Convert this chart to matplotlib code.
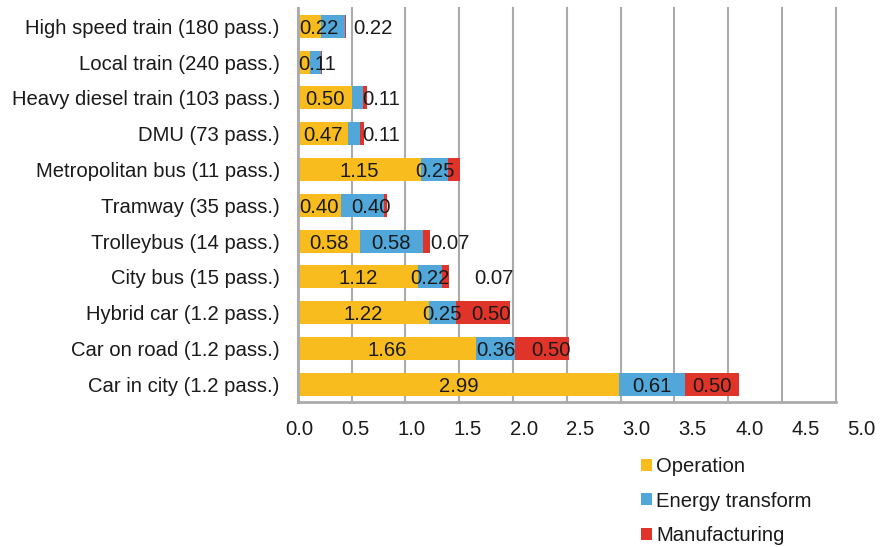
import matplotlib
matplotlib.use("Agg")
import matplotlib.pyplot as plt
from matplotlib.patches import Patch

# ---------------- data ----------------
categories = [
    "High speed train (180 pass.)",
    "Local train (240 pass.)",
    "Heavy diesel train (103 pass.)",
    "DMU (73 pass.)",
    "Metropolitan bus (11 pass.)",
    "Tramway (35 pass.)",
    "Trolleybus (14 pass.)",
    "City bus (15 pass.)",
    "Hybrid car (1.2 pass.)",
    "Car on road (1.2 pass.)",
    "Car in city (1.2 pass.)",
]
operation = [0.22, 0.11, 0.50, 0.47, 1.15, 0.40, 0.58, 1.12, 1.22, 1.66, 2.99]
energy_transform = [0.22, 0.11, 0.11, 0.11, 0.25, 0.40, 0.58, 0.22, 0.25, 0.36, 0.61]
manufacturing = [0.01, 0.01, 0.03, 0.04, 0.11, 0.03, 0.07, 0.07, 0.50, 0.50, 0.50]
series_names = ["Operation", "Energy transform", "Manufacturing"]
x_ticks = [0.0, 0.5, 1.0, 1.5, 2.0, 2.5, 3.0, 3.5, 4.0, 4.5, 5.0]

# ---------------- label placement (style, not data) ----------------
# (series index, category index) -> x position of moved data label
label_x_override = {
    (0, 0): 0.20, (1, 0): 0.70,
    (0, 1): 0.18,
    (1, 2): 0.78,
    (1, 3): 0.78,
    (1, 5): 0.68,
    (2, 6): 1.415,
    (2, 7): 1.82,
    (2, 8): 1.80,
    (2, 9): 2.35,
}
label_hidden = {(1, 1), (2, 0), (2, 1), (2, 2), (2, 3), (2, 4), (2, 5)}

colors = ["#F9BC1E", "#51A7D9", "#E0342A"]
text_color = "#1a1a1a"
grey = "#ABABAB"
FS = 14.6

plt.rcParams["font.family"] = ["Liberation Sans", "DejaVu Sans"]

fig = plt.figure(figsize=(8.8, 5.47), dpi=100)
W, H = 880.0, 547.0
ax_left, ax_right = 297.7, 835.7
ax_top, ax_bot = 8.4, 402.2
ax = fig.add_axes([ax_left / W, 1 - ax_bot / H, (ax_right - ax_left) / W, (ax_bot - ax_top) / H])

n = len(categories)
ypos = list(range(n))
series = [operation, energy_transform, manufacturing]
left = [0.0] * n
bar_h = 0.64
for si, vals in enumerate(series):
    ax.barh(ypos, vals, left=left, height=bar_h, color=colors[si], edgecolor="none", zorder=2)
    for ci in range(n):
        if (si, ci) in label_hidden:
            continue
        xc = label_x_override.get((si, ci), left[ci] + vals[ci] / 2.0)
        ax.text(xc, ypos[ci], f"{vals[ci]:.2f}", ha="center", va="center_baseline",
                fontsize=FS, color=text_color, zorder=3)
    left = [l + v for l, v in zip(left, vals)]

ax.set_xlim(0, 5)
ax.set_ylim(n - 0.5, -0.5)
ax.set_xticks(x_ticks)
ax.tick_params(axis="x", length=0, labelbottom=False)
ax.grid(axis="x", color=grey, linewidth=1.5, zorder=0)
ax.set_axisbelow(True)
for gl in ax.get_xgridlines():
    gl.set_clip_on(False)
ax.set_yticks(ypos)
ax.set_yticklabels(categories, fontsize=FS, color=text_color)
ax.tick_params(axis="y", length=0, pad=13)
for s in ["top", "right"]:
    ax.spines[s].set_visible(False)
for s in ["left", "bottom"]:
    ax.spines[s].set_color(grey)
    ax.spines[s].set_linewidth(2)

# tick labels of the x axis (spread slightly wider than the gridlines, as in the reference)
lab_left, lab_right = 299.0, 861.7
ax2 = fig.add_axes([lab_left / W, 1 - ax_bot / H, (lab_right - lab_left) / W, 0.0001])
ax2.set_xlim(0, 5)
ax2.set_xticks(x_ticks)
ax2.set_xticklabels([f"{t:.1f}" for t in x_ticks], fontsize=FS, color=text_color)
ax2.set_yticks([])
ax2.tick_params(axis="x", length=0, pad=13)
ax2.patch.set_visible(False)
for s in ax2.spines.values():
    s.set_visible(False)

handles = [Patch(facecolor=c, edgecolor="none") for c in colors]
fig.legend(handles, series_names, loc="upper left", bbox_to_anchor=(641 / W, 1 - 457 / H),
           frameon=False, fontsize=FS, handlelength=0.54, handleheight=0.54,
           handletextpad=0.22, labelspacing=0.77, borderpad=0, borderaxespad=0,
           labelcolor=text_color)

fig.savefig("out.png", dpi=100)
